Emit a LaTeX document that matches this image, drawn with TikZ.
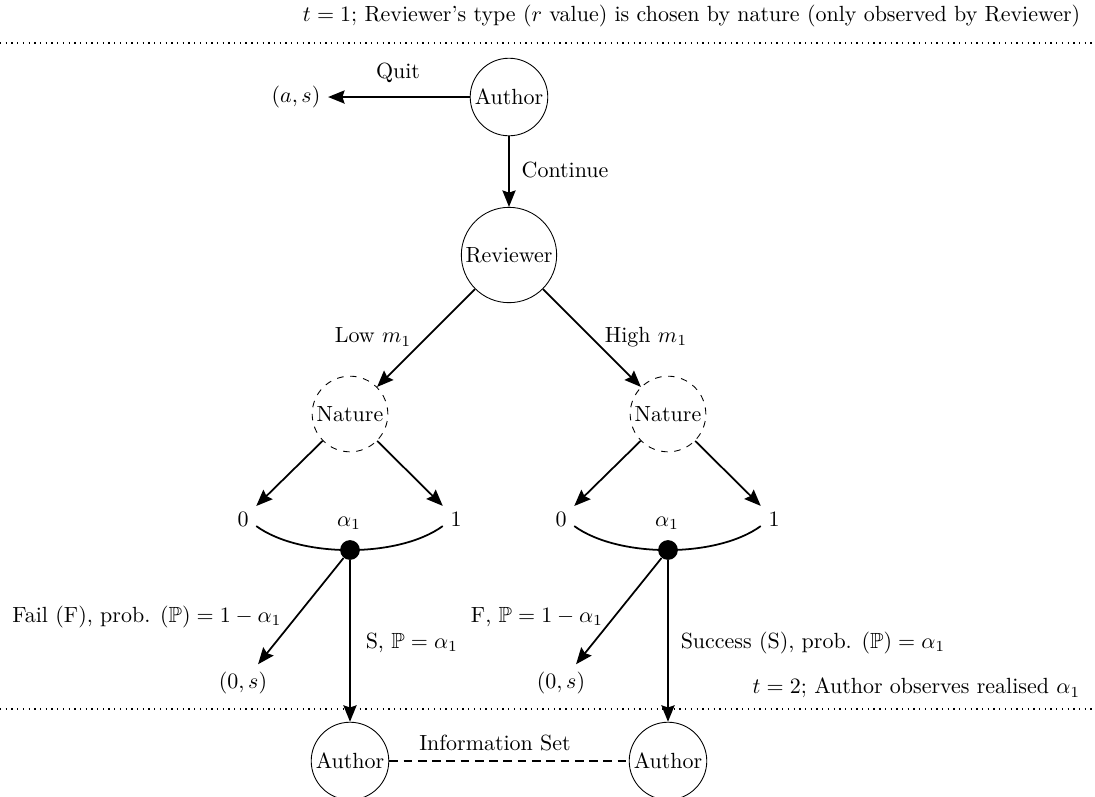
\documentclass[tikz,border=0pt]{standalone}
\usepackage{amsmath,amssymb}
\usetikzlibrary{arrows.meta}
\begin{document}
\begin{tikzpicture}[x=0.016cm,y=-0.016cm,
  player/.style={circle,draw,thin,inner sep=1.4pt},
  chance/.style={circle,draw,dashed,thin,inner sep=1.4pt},
  move/.style={thick,-{Stealth[length=7.5pt,width=6pt,inset=1pt]}},
  chancedot/.style={circle,fill,inner sep=0pt,minimum size=9pt},
  period/.style={thick,dash pattern=on 0.6pt off 2pt},
  infoset/.style={very thick,dash pattern=on 4pt off 2.5pt},
  branch/.style={thick}]
\useasboundingbox (0,0) rectangle (1095,796);

% period separators
\coordinate (p1w) at (0,43);   \coordinate (p1e) at (1095,43);
\coordinate (p2w) at (0,709);  \coordinate (p2e) at (1095,709);
\draw[period] (p1w) -- (p1e);
\draw[period] (p2w) -- (p2e);
\node[anchor=east] (t1) at (1088,16) {$t=1$; Reviewer's type ($r$ value) is chosen by nature (only observed by Reviewer)};
\node[anchor=east] (t2) at (1088,688) {$t=2$; Author observes realised $\alpha_1$};

% first move of the author
\node[player] (A0) at (509,97) {Author};
\node (as) at (296,97) {$(a,s)$};
\node (quit) at (398,73) {Quit};
\node (cont) at (565,170) {Continue};
\draw[move] (A0) -- (as);

% reviewer
\node[player] (R) at (509,255) {Reviewer};
\draw[move] (A0) -- (R);
\node (low) at (373,337) {Low $m_1$};
\node (high) at (646,337) {High $m_1$};

% nature draws alpha_1
\node[chance] (NL) at (350,414) {Nature};
\node[chance] (NR) at (668,414) {Nature};
\draw[move] (R) -- (NL);
\draw[move] (R) -- (NR);

\node (zL) at (243,519) {$0$};
\node (oL) at (456,519) {$1$};
\node (zR) at (561,519) {$0$};
\node (oR) at (774,519) {$1$};
\draw[move] (NL) -- (zL);
\draw[move] (NL) -- (oL);
\draw[move] (NR) -- (zR);
\draw[move] (NR) -- (oR);

% continuum of alpha_1 values
\draw[branch] (zL.base east) .. controls +(44,32) and +(-44,32) .. (oL.base west);
\draw[branch] (zR.base east) .. controls +(44,32) and +(-44,32) .. (oR.base west);
\node[chancedot] (dL) at (350,550) {};
\node[chancedot] (dR) at (668,550) {};
\node (aL) at (349,523) {$\alpha_1$};
\node (aR) at (667,523) {$\alpha_1$};

% fail / success
\node (osL) at (243,683) {$(0,s)$};
\node (osR) at (561,683) {$(0,s)$};
\node[player] (AL) at (350,761) {Author};
\node[player] (AR) at (668,761) {Author};
\draw[move] (dL) -- (osL);
\draw[move] (dL) -- (AL);
\draw[move] (dR) -- (osR);
\draw[move] (dR) -- (AR);
\node (failL) at (147,617) {Fail (F), prob. $(\mathbb{P})=1-\alpha_1$};
\node (failR) at (537,617) {F, $\mathbb{P}=1-\alpha_1$};
\node[anchor=west] (succL) at (358,643) {S, $\mathbb{P}=\alpha_1$};
\node[anchor=west] (succR) at (673,643) {Success (S), prob. $(\mathbb{P})=\alpha_1$};

% information set
\draw[infoset] (AL) -- (AR);
\node (info) at (495,743) {Information Set};
\end{tikzpicture}
\end{document}
